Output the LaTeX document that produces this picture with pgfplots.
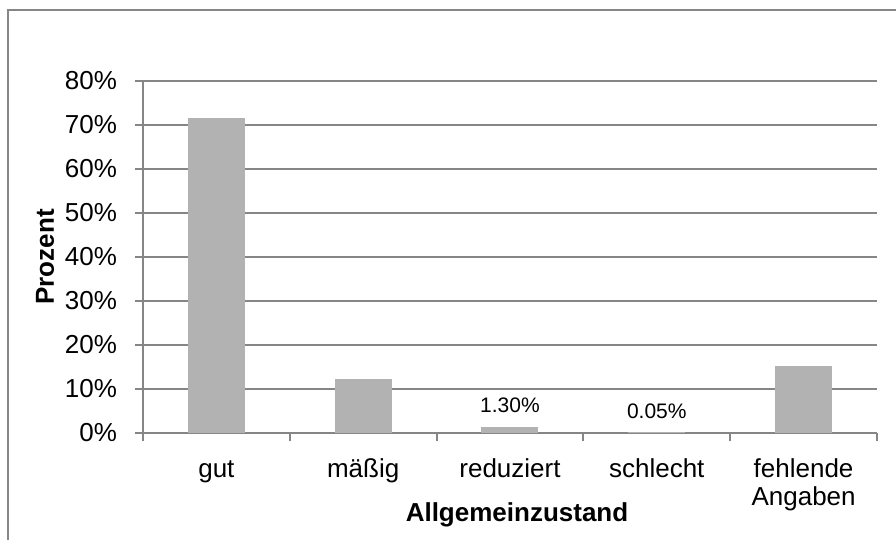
\documentclass[border=0pt]{standalone}
\usepackage{pgfplots}
\pgfplotsset{compat=1.18}
\usepackage{fontspec}
\setmainfont{Liberation Sans}
\definecolor{bargray}{RGB}{178,178,178}
\definecolor{linegray}{RGB}{134,134,134}
\begin{document}
\begin{tikzpicture}[x=1pt,y=1pt]
\begin{axis}[
    at={(0,0)}, anchor=south west,
    scale only axis, width=367pt, height=176pt,
    ymin=0, ymax=80, xmin=-0.5, xmax=4.5,
    ytick={0,10,...,80},
    ymajorgrids, grid style={linegray, line width=1pt},
    axis x line*=bottom, axis y line*=left,
    axis line style={linegray, line width=1pt, -},
    xtick={0,...,4},
    xticklabels={\strut gut, \strut mäßig, \strut reduziert, \strut schlecht, {\strut fehlende\\Angaben}},
    xticklabel style={align=center, anchor=north, yshift=-5pt,
                      font=\fontsize{13}{14}\selectfont},
    minor xtick={-0.5,0.5,...,4.5},
    major x tick style={draw=none},
    tick style={linegray, line width=1pt},
    tick align=outside,
    major tick length=4pt, minor tick length=4pt,
    yticklabel={\pgfmathprintnumber{\tick}\%},
    yticklabel style={font=\fontsize{13}{15}\selectfont, xshift=-5.5pt},
    /pgf/number format/assume math mode=true,
    xlabel={Allgemeinzustand},
    xlabel style={font=\bfseries\fontsize{13}{15}\selectfont,
                  at={(axis description cs:0.5,0)}, anchor=center,
                  xshift=3.5pt, yshift=-41pt},
    ylabel={Prozent},
    ylabel style={font=\bfseries\fontsize{13}{15}\selectfont,
                  at={(axis description cs:0,0.5)}, anchor=center,
                  yshift=49pt},
]
\addplot[ybar, bar width=27.75pt, bar shift=0pt, fill=bargray, draw=bargray, line width=0.75pt]
    coordinates {(0,71.5)(1,12.0)(2,1.3)(3,0.05)(4,15.15)};
\node[font=\fontsize{10.5}{12}\selectfont, yshift=11pt] at (axis cs:2,1.3) {1.30\%};
\node[font=\fontsize{10.5}{12}\selectfont, yshift=11pt] at (axis cs:3,0.05) {0.05\%};
\end{axis}
\draw[linegray, line width=1pt] (-67.5,-70) |- (400,211.25);
\pgfresetboundingbox
\path (-71.5,-53.5) rectangle (376.5,216.5);
\end{tikzpicture}
\end{document}
